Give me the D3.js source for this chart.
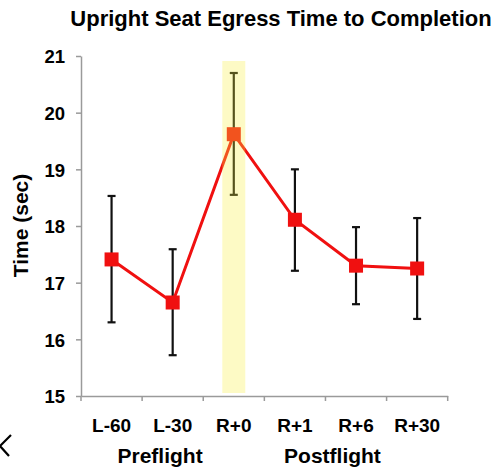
<!DOCTYPE html>
<html>
<head>
<meta charset="utf-8">
<script src="https://cdn.jsdelivr.net/npm/d3@7"></script>
<style>
  html, body { margin: 0; padding: 0; background: #fff; }
  svg { display: block; }
  text { font-family: "Liberation Sans", Arial, sans-serif; }
</style>
</head>
<body>
<svg id="chart" width="500" height="470"></svg>
<script>
// ---- data ----
const categories = ["L-60", "L-30", "R+0", "R+1", "R+6", "R+30"];
const meanTime   = [17.41, 16.65, 19.62, 18.11, 17.30, 17.25];
const errLow     = [16.30, 15.72, 18.55, 17.21, 16.62, 16.36];
const errHigh    = [18.53, 17.59, 20.70, 19.00, 17.98, 18.14];
const yTicks     = [15, 16, 17, 18, 19, 20, 21];
const highlighted = ["R+0"];
const groupLabels = [
  { label: "Preflight",  from: "L-60", to: "L-30", shift: 18 },
  { label: "Postflight", from: "R+0",  to: "R+30", shift: 7 }
];
const titleText = "Upright Seat Egress Time to Completion";
const yTitle = "Time (sec)";

// ---- layout ----
const svg = d3.select("#chart");
const pLeft = 81, pRight = 447.7, pTop = 56, pBottom = 396;

const x = d3.scaleBand().domain(categories).range([pLeft, pRight]).padding(0);
const y = d3.scaleLinear().domain([15, 21]).range([pBottom, pTop]);
const cx = c => x(c) + x.bandwidth() / 2;

// title
svg.append("text")
  .attr("x", 281).attr("y", 26)
  .attr("text-anchor", "middle")
  .style("font-size", "22px").style("font-weight", "bold")
  .text(titleText);

// y axis
const yAxis = svg.append("g")
  .attr("transform", `translate(${pLeft},0)`)
  .call(d3.axisLeft(y).tickValues(yTicks).tickFormat(d3.format("d"))
        .tickSize(5).tickSizeOuter(0).tickPadding(11));
yAxis.select(".domain").attr("stroke", "#9a9a9a").attr("stroke-width", 1.5);
yAxis.selectAll(".tick line").attr("stroke", "#9a9a9a").attr("stroke-width", 1.5);
yAxis.selectAll(".tick text")
  .style("font-size", "18.5px").style("font-weight", "bold")
  .attr("fill", "#000").attr("dy", "0.36em");

// x axis (line + boundary ticks)
const xAxis = svg.append("g")
  .attr("transform", `translate(0,${pBottom})`)
  .call(d3.axisBottom(x).tickSize(0).tickSizeOuter(0).tickPadding(23));
xAxis.select(".domain").attr("stroke", "#9a9a9a").attr("stroke-width", 1.5);
xAxis.selectAll(".tick text")
  .style("font-size", "19px").style("font-weight", "bold").attr("fill", "#000");
const boundaries = categories.map(c => x(c)).concat([x.range()[1]]);
xAxis.selectAll("line.bound").data(boundaries).enter().append("line")
  .attr("class", "bound")
  .attr("x1", d => d).attr("x2", d => d)
  .attr("y1", 0).attr("y2", 5)
  .attr("stroke", "#9a9a9a").attr("stroke-width", 1.5);

// group labels
svg.selectAll("text.group").data(groupLabels).enter().append("text")
  .attr("class", "group")
  .attr("x", d => (cx(d.from) + cx(d.to)) / 2 + d.shift)
  .attr("y", 463)
  .attr("text-anchor", "middle")
  .style("font-size", "21px").style("font-weight", "bold")
  .text(d => d.label);

// y axis title
svg.append("text")
  .attr("transform", `translate(28,225.5) rotate(-90)`)
  .attr("text-anchor", "middle")
  .style("font-size", "21px").style("font-weight", "bold")
  .text(yTitle);

// data
const pts = categories.map((c, i) => ({ c, m: meanTime[i], lo: errLow[i], hi: errHigh[i] }));

// error bars
const eb = svg.append("g").attr("stroke", "#111").attr("stroke-width", 2.2);
eb.selectAll("line.v").data(pts).enter().append("line")
  .attr("x1", d => cx(d.c)).attr("x2", d => cx(d.c))
  .attr("y1", d => y(d.lo)).attr("y2", d => y(d.hi));
eb.selectAll("line.t").data(pts).enter().append("line")
  .attr("x1", d => cx(d.c) - 4).attr("x2", d => cx(d.c) + 4)
  .attr("y1", d => y(d.hi)).attr("y2", d => y(d.hi));
eb.selectAll("line.b").data(pts).enter().append("line")
  .attr("x1", d => cx(d.c) - 4).attr("x2", d => cx(d.c) + 4)
  .attr("y1", d => y(d.lo)).attr("y2", d => y(d.lo));

// line
svg.append("path").datum(pts)
  .attr("fill", "none").attr("stroke", "#f01010").attr("stroke-width", 3)
  .attr("d", d3.line().x(d => cx(d.c)).y(d => y(d.m)));

// markers
const ms = 14;
svg.selectAll("rect.marker").data(pts).enter().append("rect")
  .attr("class", "marker")
  .attr("x", d => cx(d.c) - ms / 2).attr("y", d => y(d.m) - ms / 2)
  .attr("width", ms).attr("height", ms)
  .attr("fill", "#f01010");

// highlight band (semi-transparent overlay)
svg.selectAll("rect.hl").data(highlighted).enter().append("rect")
  .attr("class", "hl")
  .attr("x", d => cx(d) - 11.5).attr("width", 23)
  .attr("y", y(21) + 5).attr("height", y(15) - 3 - (y(21) + 5))
  .attr("fill", "#f8f040").attr("opacity", 0.3);

// stray chevron at bottom-left
svg.append("path")
  .attr("d", "M11,435 L0,446 L9,456")
  .attr("fill", "none").attr("stroke", "#000").attr("stroke-width", 2.2);
</script>
</body>
</html>
